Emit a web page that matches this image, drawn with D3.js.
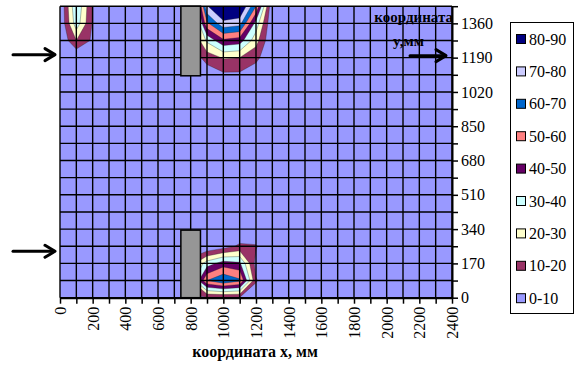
<!DOCTYPE html>
<html>
<head>
<meta charset="utf-8">
<script src="https://cdn.jsdelivr.net/npm/d3@7"></script>
<style>
  body { margin: 0; background: #fff; }
  svg { display: block; }
  text { font-family: "Liberation Serif", "Times New Roman", serif; }
</style>
</head>
<body>
<svg id="chart" width="579" height="365"></svg>
<script>
// Grid nodes of the measurement field, mm
const xValues = d3.range(0, 2401, 100);   // 25 columns
const yValues = d3.range(0, 1446, 85);    // 18 rows

// Measured values on the grid, rows listed from the top (y = 1445) down to y = 0
const rows = [
  [0,40,9,0,0,0,0,0,0,79,95,93,60,0,0,0,0,0,0,0,0,0,0,0,0],
  [0,36,9,0,0,0,0,0,0,58,77,74,36,0,0,0,0,0,0,0,0,0,0,0,0],
  [0,20,8,0,0,0,0,0,5,32,48,45,24,0,0,0,0,0,0,0,0,0,0,0,0],
  [0,0,0,0,0,0,0,0,3,14,21,20,13,0,0,0,0,0,0,0,0,0,0,0,0],
  [0,0,0,0,0,0,0,0,0,4,8,8,3,0,0,0,0,0,0,0,0,0,0,0,0],
  [0,0,0,0,0,0,0,0,0,0,0,0,0,0,0,0,0,0,0,0,0,0,0,0,0],
  [0,0,0,0,0,0,0,0,0,0,0,0,0,0,0,0,0,0,0,0,0,0,0,0,0],
  [0,0,0,0,0,0,0,0,0,0,0,0,0,0,0,0,0,0,0,0,0,0,0,0,0],
  [0,0,0,0,0,0,0,0,0,0,0,0,0,0,0,0,0,0,0,0,0,0,0,0,0],
  [0,0,0,0,0,0,0,0,0,0,0,0,0,0,0,0,0,0,0,0,0,0,0,0,0],
  [0,0,0,0,0,0,0,0,0,0,0,0,0,0,0,0,0,0,0,0,0,0,0,0,0],
  [0,0,0,0,0,0,0,0,0,0,0,0,0,0,0,0,0,0,0,0,0,0,0,0,0],
  [0,0,0,0,0,0,0,0,0,0,0,0,0,0,0,0,0,0,0,0,0,0,0,0,0],
  [0,0,0,0,0,0,0,0,0,0,0,0,0,0,0,0,0,0,0,0,0,0,0,0,0],
  [0,0,0,0,0,0,0,0,0,0,5,12,11,0,0,0,0,0,0,0,0,0,0,0,0],
  [0,0,0,0,0,0,0,0,15,35,45,42,6,0,0,0,0,0,0,0,0,0,0,0,0],
  [0,0,0,0,0,0,0,0,20,60,69,62,11,0,0,0,0,0,0,0,0,0,0,0,0],
  [0,0,0,0,0,0,0,0,8,9,9,9,3,0,0,0,0,0,0,0,0,0,0,0,0]
];

// Value bands (legend order, top to bottom)
const bandLabels = ["80-90", "70-80", "60-70", "50-60", "40-50", "30-40", "20-30", "10-20", "0-10"];
const bandLower  = [80, 70, 60, 50, 40, 30, 20, 10, 0];
const bandColors = ["#000080", "#CCCCFF", "#0066CC", "#FF8080", "#660066", "#CCFFFF", "#FFFFCC", "#993366", "#9999FF"];

const xTickLabels = d3.range(0, 2401, 200);
const yTickLabels = d3.range(0, 1361, 170);

// Partition walls, mm
const walls = [
  { x0: 740, x1: 860, y0: 1100, y1: 1445 },
  { x0: 740, x1: 860, y0: 0, y1: 335 }
];

// Inflow arrows at the left side, y in mm
const inflowY = [1190, 215];

const svg = d3.select("#chart");
const x = d3.scaleLinear().domain([0, 2400]).range([60, 452]);
const y = d3.scaleLinear().domain([0, 1445]).range([297.7, 6.2]);
const color = d3.scaleOrdinal().domain(bandLower).range(bandColors);

svg.append("defs").append("clipPath").attr("id", "plotClip")
  .append("rect")
  .attr("x", x(0)).attr("y", y(1445))
  .attr("width", x(2400) - x(0)).attr("height", y(0) - y(1445));

const plot = svg.append("g").attr("clip-path", "url(#plotClip)");

// background band (0-10)
plot.append("rect")
  .attr("x", x(0)).attr("y", y(1445))
  .attr("width", x(2400) - x(0)).attr("height", y(0) - y(1445))
  .attr("fill", color(0));

// contour bands
const nx = xValues.length, ny = yValues.length;
const dxStep = xValues[1] - xValues[0];
const dyStep = yValues[1] - yValues[0];
const flat = rows.flat();
const thresholds = bandLower.filter(v => v > 0).sort((a, b) => a - b);
const contours = d3.contours().size([nx, ny]).thresholds(thresholds)(flat);
const proj = d3.geoTransform({
  point(cx, cy) {
    const dataX = (cx - 0.5) * dxStep;
    const dataY = (ny - 1 - (cy - 0.5)) * dyStep;
    this.stream.point(x(dataX), y(dataY));
  }
});
const path = d3.geoPath(proj);
plot.selectAll("path.band").data(contours).join("path")
  .attr("class", "band")
  .attr("d", path)
  .attr("fill", d => color(d.value))
  .attr("stroke", "#222")
  .attr("stroke-opacity", 0.55)
  .attr("stroke-width", 0.6);

// grid
const grid = svg.append("g").attr("stroke", "#000").attr("stroke-width", 1.4);
grid.selectAll("line.v").data(xValues).join("line")
  .attr("x1", d => x(d)).attr("x2", d => x(d))
  .attr("y1", y(1445)).attr("y2", y(0));
grid.selectAll("line.h").data(yValues).join("line")
  .attr("x1", x(0)).attr("x2", x(2400))
  .attr("y1", d => y(d)).attr("y2", d => y(d));

// walls
svg.append("g").selectAll("rect").data(walls).join("rect")
  .attr("x", d => x(d.x0)).attr("y", d => y(d.y1))
  .attr("width", d => x(d.x1) - x(d.x0)).attr("height", d => y(d.y0) - y(d.y1))
  .attr("fill", "#969696").attr("stroke", "#000").attr("stroke-width", 1.5);

// bottom axis
const xAxis = svg.append("g").attr("transform", `translate(0,${y(0)})`)
  .call(d3.axisBottom(x).tickValues(xValues).tickSize(6).tickSizeOuter(0)
    .tickFormat(d => xTickLabels.includes(d) ? d : ""));
xAxis.select(".domain").attr("stroke", "#000").attr("stroke-width", 2);
xAxis.selectAll(".tick line").attr("stroke", "#000").attr("stroke-width", 1.5);
xAxis.selectAll(".tick text")
  .attr("font-size", 16).attr("fill", "#000")
  .attr("text-anchor", "end")
  .attr("transform", "rotate(-90)")
  .attr("x", -9).attr("y", 0).attr("dy", "0.35em");

// right axis
const yAxis = svg.append("g").attr("transform", `translate(${x(2400)},0)`)
  .call(d3.axisRight(y).tickValues(yValues).tickSize(6).tickSizeOuter(0)
    .tickFormat(d => yTickLabels.includes(d) ? d : ""));
yAxis.select(".domain").attr("stroke", "#000").attr("stroke-width", 2);
yAxis.selectAll(".tick line").attr("stroke", "#000").attr("stroke-width", 1.5);
yAxis.selectAll(".tick text").attr("font-size", 16).attr("fill", "#000").attr("x", 9);

// axis titles
svg.append("text").attr("x", 255).attr("y", 357).attr("text-anchor", "middle")
  .attr("font-size", 16).attr("font-weight", "bold").text("координата x, мм");
svg.append("text").attr("x", 453).attr("y", 22).attr("text-anchor", "end")
  .attr("font-size", 15).attr("font-weight", "bold").text("координата");
svg.append("text").attr("x", 393).attr("y", 46)
  .attr("font-size", 15).attr("font-weight", "bold").text("y,мм");

// arrows
function arrow(x1, x2, yy) {
  const g = svg.append("g").attr("stroke", "#000").attr("stroke-width", 3)
    .attr("fill", "none").attr("stroke-linecap", "round").attr("stroke-linejoin", "round");
  g.append("line").attr("x1", x1).attr("x2", x2 - 1).attr("y1", yy).attr("y2", yy);
  g.append("polyline").attr("points", `${x2 - 10},${yy - 6} ${x2},${yy} ${x2 - 10},${yy + 6}`);
}
inflowY.forEach(v => arrow(13, 55, y(v) - 3));
arrow(410, 446, y(1190) - 2);

// legend
const legend = svg.append("g");
legend.append("rect").attr("x", 510.5).attr("y", 22.5).attr("width", 63).attr("height", 291)
  .attr("fill", "#fff").attr("stroke", "#000").attr("stroke-width", 1);
const items = legend.selectAll("g.item").data(bandLabels).join("g")
  .attr("class", "item")
  .attr("transform", (d, i) => `translate(0,${39 + i * 32.4})`);
items.append("rect").attr("x", 516.5).attr("y", -4.5).attr("width", 9).attr("height", 9)
  .attr("fill", (d, i) => bandColors[i]).attr("stroke", "#000").attr("stroke-width", 1);
items.append("text").attr("x", 529).attr("y", 0).attr("dy", "0.35em")
  .attr("font-size", 16).attr("fill", "#000").text(d => d);
</script>
</body>
</html>
